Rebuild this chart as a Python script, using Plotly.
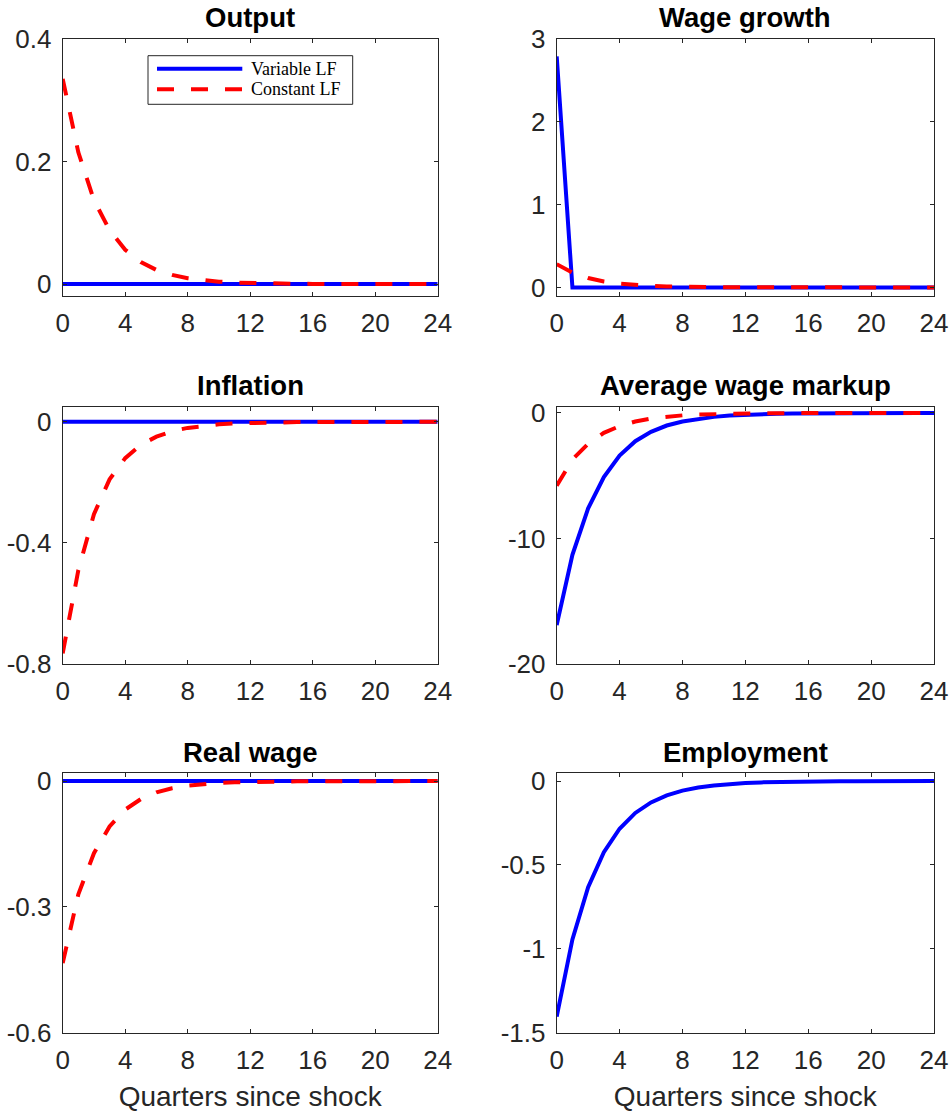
import plotly.graph_objects as go

# ---------------- data ----------------
quarters = [0, 1, 2, 3, 4, 5, 6, 7, 8, 9, 10, 11, 12, 13, 14, 15, 16, 17, 18, 19, 20, 21, 22, 23, 24]

output_variable = [0, 0, 0, 0, 0, 0, 0, 0, 0, 0, 0, 0, 0, 0, 0, 0, 0, 0, 0, 0, 0, 0, 0, 0, 0]
output_constant = [0.335, 0.215, 0.137, 0.088, 0.056, 0.036, 0.023, 0.015, 0.0095, 0.006, 0.0039,
                   0.0025, 0.0016, 0.001, 0.0007, 0.0004, 0.0003, 0.0002, 0.0001, 0.0001, 0, 0, 0, 0, 0]

wage_growth_variable = [2.79, 0, 0, 0, 0, 0, 0, 0, 0, 0, 0, 0, 0, 0, 0, 0, 0, 0, 0, 0, 0, 0, 0, 0, 0]
wage_growth_constant = [0.28, 0.18, 0.113, 0.072, 0.046, 0.029, 0.018, 0.012, 0.0074, 0.0047, 0.003,
                        0.0019, 0.0012, 0.0008, 0.0005, 0.0003, 0.0002, 0.0001, 0, 0, 0, 0, 0, 0, 0]

inflation_variable = [0, 0, 0, 0, 0, 0, 0, 0, 0, 0, 0, 0, 0, 0, 0, 0, 0, 0, 0, 0, 0, 0, 0, 0, 0]
inflation_constant = [-0.765, -0.49, -0.305, -0.19, -0.12, -0.076, -0.049, -0.031, -0.02, -0.013,
                      -0.0083, -0.0053, -0.0034, -0.0022, -0.0014, -0.0009, -0.0006, -0.0004,
                      -0.0002, -0.0002, -0.0001, -0.0001, 0, 0, 0]

markup_variable = [-16.9, -11.3, -7.6, -5.1, -3.4, -2.25, -1.5, -1.0, -0.68, -0.46, -0.31, -0.21,
                   -0.14, -0.093, -0.062, -0.042, -0.028, -0.019, -0.013, -0.0085, -0.0057,
                   -0.0038, -0.0026, -0.0017, -0.0011]
markup_constant = [-5.8, -3.7, -2.45, -1.58, -1.05, -0.68, -0.44, -0.29, -0.19, -0.12, -0.08,
                   -0.052, -0.034, -0.022, -0.014, -0.009, -0.006, -0.004, -0.0026, -0.0017,
                   -0.0011, -0.0007, -0.0005, -0.0003, -0.0002]

real_wage_variable = [0, 0, 0, 0, 0, 0, 0, 0, 0, 0, 0, 0, 0, 0, 0, 0, 0, 0, 0, 0, 0, 0, 0, 0, 0]
real_wage_constant = [-0.434, -0.27, -0.172, -0.108, -0.068, -0.043, -0.027, -0.017, -0.011, -0.007,
                      -0.0044, -0.0028, -0.0018, -0.0011, -0.0007, -0.0005, -0.0003, -0.0002,
                      -0.0001, -0.0001, 0, 0, 0, 0, 0]

employment_variable = [-1.404, -0.944, -0.632, -0.424, -0.284, -0.19, -0.127, -0.085, -0.057, -0.038,
                       -0.026, -0.017, -0.0115, -0.0077, -0.0052, -0.0035, -0.0023, -0.0016,
                       -0.001, -0.0007, -0.0005, -0.0003, -0.0002, -0.0001, -0.0001]

panel_titles = ["Output", "Wage growth", "Inflation", "Average wage markup", "Real wage", "Employment"]
series_names = ["Variable LF", "Constant LF"]
x_tick_vals = [0, 4, 8, 12, 16, 20, 24]
x_tick_text = ["0", "4", "8", "12", "16", "20", "24"]
x_label = "Quarters since shock"

y_tick_vals = [
    [0, 0.2, 0.4],
    [0, 1, 2, 3],
    [-0.8, -0.4, 0],
    [-20, -10, 0],
    [-0.6, -0.3, 0],
    [-1.5, -1, -0.5, 0],
]
y_tick_text = [
    ["0", "0.2", "0.4"],
    ["0", "1", "2", "3"],
    ["-0.8", "-0.4", "0"],
    ["-20", "-10", "0"],
    ["-0.6", "-0.3", "0"],
    ["-1.5", "-1", "-0.5", "0"],
]
y_ranges = [
    [-0.019, 0.4],
    [-0.1, 3],
    [-0.8, 0.05],
    [-20, 0.5],
    [-0.6, 0.02],
    [-1.5, 0.05],
]

variable_series = [output_variable, wage_growth_variable, inflation_variable,
                   markup_variable, real_wage_variable, employment_variable]
constant_series = [output_constant, wage_growth_constant, inflation_constant,
                   markup_constant, real_wage_constant, None]

# ---------------- layout geometry (pixels) ----------------
W, H = 950, 1114
col_px = [(62.7, 437.7), (556.7, 934.0)]
row_px = [(39.0, 295.7), (406.7, 664.0), (772.7, 1032.7)]
title_y_px = [18.0, 385.0, 752.5]

BLUE = "#0000FF"
RED = "#FF0000"
AXC = "#262626"
LW = 4
DASH = "17px,17px"
SANS = "Liberation Sans, Arial, sans-serif"
SERIF = "Liberation Serif, Times New Roman, serif"

fig = go.Figure()
layout = dict(
    template="none",
    width=W, height=H,
    margin=dict(l=0, r=0, t=0, b=0, pad=0, autoexpand=False),
    paper_bgcolor="white", plot_bgcolor="white",
    showlegend=False,
    font=dict(family=SANS, color=AXC, size=26),
)
annotations = []
shapes = []

for i in range(6):
    r, c = divmod(i, 2)
    sfx = "" if i == 0 else str(i + 1)
    xa, ya = "x" + sfx, "y" + sfx
    x0, x1 = col_px[c]
    y0, y1 = row_px[r]
    common = dict(
        showline=True, linecolor=AXC, linewidth=1, mirror="allticks",
        ticks="inside", ticklen=4, tickcolor=AXC, tickwidth=1,
        showgrid=False, zeroline=False, automargin=False,
        tickfont=dict(family=SANS, size=26, color=AXC),
    )
    layout["xaxis" + sfx] = dict(
        common, domain=[x0 / W, x1 / W], anchor=ya, range=[0, 24],
        tickmode="array", tickvals=x_tick_vals, ticktext=x_tick_text,
        ticklabelstandoff=4,
    )
    if r == 2:
        layout["xaxis" + sfx]["title"] = dict(
            text=x_label, font=dict(family=SANS, size=28, color=AXC), standoff=12)
    layout["yaxis" + sfx] = dict(
        common, domain=[1 - y1 / H, 1 - y0 / H], anchor=xa, range=y_ranges[i],
        tickmode="array", tickvals=y_tick_vals[i], ticktext=y_tick_text[i],
        ticklabelstandoff=5,
    )
    fig.add_trace(go.Scatter(
        x=quarters, y=variable_series[i], mode="lines", name=series_names[0],
        line=dict(color=BLUE, width=LW), xaxis=xa, yaxis=ya, showlegend=False))
    if constant_series[i] is not None:
        fig.add_trace(go.Scatter(
            x=quarters, y=constant_series[i], mode="lines", name=series_names[1],
            line=dict(color=RED, width=LW, dash=DASH), xaxis=xa, yaxis=ya, showlegend=False))
    annotations.append(dict(
        text="<b>" + panel_titles[i] + "</b>", xref="paper", yref="paper",
        x=(x0 + x1) / 2 / W, y=1 - title_y_px[r] / H, xanchor="center", yanchor="middle",
        showarrow=False, font=dict(family=SANS, size=27.5, color="black")))

# ---------------- legend box (Output panel) ----------------
def px(xp):
    return xp / W

def py(yp):
    return 1 - yp / H

leg_box = (148.0, 55.7, 352.7, 104.3)
shapes.append(dict(type="rect", xref="paper", yref="paper",
                   x0=px(leg_box[0]), x1=px(leg_box[2]), y0=py(leg_box[3]), y1=py(leg_box[1]),
                   line=dict(color=AXC, width=1), fillcolor="white", layer="above"))
leg_rows = [68.7, 89.3]
leg_colors = [BLUE, RED]
leg_dash = ["solid", DASH]
for k in range(2):
    shapes.append(dict(type="line", xref="paper", yref="paper",
                       x0=px(157), x1=px(242.3), y0=py(leg_rows[k]), y1=py(leg_rows[k]),
                       line=dict(color=leg_colors[k], width=LW, dash=leg_dash[k]), layer="above"))
    annotations.append(dict(
        text=series_names[k], xref="paper", yref="paper", x=px(249), y=py(leg_rows[k]),
        xanchor="left", yanchor="middle", showarrow=False,
        font=dict(family=SERIF, size=18, color="black")))

layout["annotations"] = annotations
layout["shapes"] = shapes
fig.update_layout(**layout)
fig.write_html("out.html")
